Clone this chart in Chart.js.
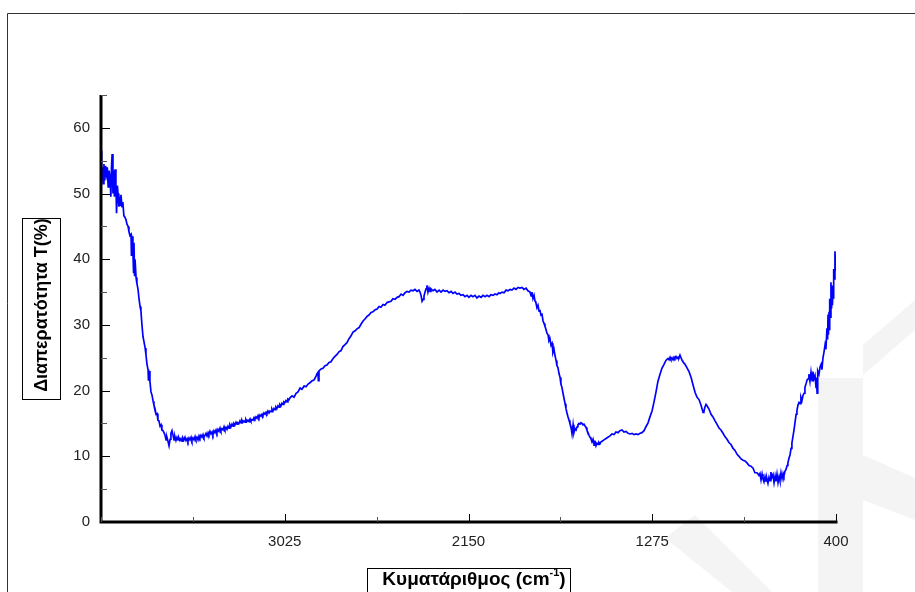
<!DOCTYPE html>
<html>
<head>
<meta charset="utf-8">
<script src="https://cdn.jsdelivr.net/npm/chart.js@4.4.1/dist/chart.umd.min.js"></script>
<style>
html,body{margin:0;padding:0;background:#fff;}
#wrap{position:relative;width:915px;height:592px;}
</style>
</head>
<body>
<div id="wrap"><canvas id="c" width="915" height="592"></canvas></div>
<script>
// ---- data ----
const wavenumbers = [
3900,3897,3893,3890,3886,3882,3878,3874,3870,3866,3862,3857,3853,3850,3847,3843,3840,3836,3833,3829,3826,3822,3819,3815,3812,3808,3805,3800,3796,3791,3786,3781,3776,3771,3767,3762,3757,3755,3752,3748,3745,3743,3740,3738,3733,3729,3724,3719,3714,3710,3705,3700,3695,3690,3686,3681,3676,3674,3671,3667,3662,3657,3652,3648,3643,3638,3633,3629,3624,3619,3614,3610,3605,3600,3595,3590,3586,3581,3576,3571,3567,3562,
3557,3552,3548,3543,3538,3533,3529,3524,3519,3514,3510,3505,3500,3495,3490,3486,3481,3476,3471,3467,3462,3457,3452,3448,3443,3438,3433,3429,3424,3419,3414,3410,3405,3400,3395,3390,3386,3381,3376,3371,3367,3362,3357,3352,3348,3343,3338,3333,3329,3324,3319,3314,3310,3305,3300,3295,3290,3286,3281,3276,3271,3267,3262,3257,3252,3248,3243,3238,3233,3229,3224,3219,3214,3210,3205,3200,3195,3190,3186,3181,3176,3171,3167,3162,3157,3152,3148,3143,3138,3133,3129,3124,3119,3114,3110,3105,3100,3095,3090,3086,3081,3076,3071,3067,3062,3057,3052,3048,3043,3038,3033,3029,3024,3019,3014,3010,3005,3000,
2990,2981,2971,2962,2952,2943,2933,2924,2914,2905,2895,2886,2876,2871,2867,2865,2862,2852,2843,2833,2824,2814,2805,2795,2786,2776,2767,2757,2748,2738,2729,2719,2710,2700,2690,2681,2671,2662,2652,2643,2633,2624,2614,2605,2595,2586,2576,2567,2557,2548,2538,2529,2519,2510,2500,2490,2481,2471,2462,2452,2443,2433,2424,2414,2405,2395,2386,2381,2376,2371,2366,2362,2357,2352,2348,2343,2338,2333,2329,
2319,2310,2300,2290,2281,2271,2262,2252,2243,2233,2224,2214,2205,2195,2186,2176,2167,2157,2148,2138,2129,2119,2110,2100,2090,2081,2071,2062,2052,2043,2033,2024,2014,2005,2000,1990,1981,1971,1962,1952,1943,1933,1924,1914,1905,1895,1886,1876,1867,
1857,1852,1848,1843,1838,1833,1829,1824,1819,1814,1810,1805,1800,1795,1790,1786,1781,1776,1771,1767,1762,1757,1752,1748,1743,1738,1733,1729,1724,1719,1714,1710,1705,1700,1695,1690,1686,1681,1676,1671,1667,1662,1657,1652,1648,1643,1638,1633,1629,1624,1619,1614,1610,1605,1600,1595,1590,1586,1581,1576,1571,1567,1562,1557,1552,1548,1543,1538,1533,1529,1524,1519,1514,1505,1495,1486,1476,1467,1457,1448,1438,1429,1419,1410,1400,1390,1381,1371,1362,1352,1343,1333,1324,1314,1305,1295,1286,1276,1267,1257,1248,1238,1229,1219,1210,1200,1195,1190,1186,1181,1176,1171,1167,1162,1157,1152,1148,1143,1138,1133,1129,1119,1110,1100,1090,1081,1071,1062,1052,1043,1033,1029,1024,1019,1014,1005,995,986,976,967,957,948,938,929,919,910,900,890,881,871,862,852,843,833,824,814,805,795,786,776,767,762,757,752,748,743,738,733,729,724,719,714,710,705,700,695,690,686,681,676,671,667,662,657,652,648,643,638,633,629,624,619,614,610,605,600,595,590,586,581,576,571,567,562,557,552,548,543,538,533,529,524,519,514,510,505,500,495,493,490,488,486,481,476,471,467,462,457,452,448,443,440,438,436,433,431,429,426,424,421,419,417,414,412,410,407,405,402,400
];
const transmittance = [
56.5,52,54,51.5,54.5,52,54.2,53,54,51,53.5,52.5,49.5,54,56,50,53.5,49.5,53.7,51.5,47,51.2,50,48,49.5,48.2,49.8,48,48.7,46.6,46.4,46,45.3,45,44.2,43.6,43.8,40.5,43.5,41,38,42.5,37.4,40,37.2,36.3,35.5,34,32.8,32.2,30,28.2,27.4,26.5,25.5,24,23.2,21.5,23,21.4,19.8,19.3,18.4,17.8,17.3,16.4,16.5,15.5,15.4,14.6,14.8,14,13.9,13.6,13.2,12.5,12.9,12.3,11.6,12.6,13.5,13.9,
13.2,12.5,13.0,12.4,12.9,12.5,12.8,12.4,12.7,12.3,12.8,12.5,12.9,12.4,12.7,12.3,12.8,12.5,12.9,12.4,12.8,12.5,13.0,12.6,12.9,12.5,13.1,12.8,13.2,12.9,13.3,12.9,13.2,13.5,13.1,13.6,13.3,13.8,13.4,13.7,13.3,13.9,13.6,14.0,13.6,14.1,13.8,14.3,13.9,14.2,14.0,14.5,14.1,14.4,14.1,14.6,14.3,14.8,14.5,14.9,14.6,15.0,14.8,15.2,14.9,15.1,15.0,15.4,15.1,15.5,15.2,15.4,15.2,15.6,15.3,15.5,15.3,15.7,15.4,15.6,15.5,15.9,15.7,16.0,15.8,16.2,15.9,16.3,16.1,16.4,16.2,16.6,16.4,16.7,16.5,16.9,16.6,16.9,16.8,17.2,16.9,17.3,17.1,17.5,17.3,17.7,17.5,17.9,17.7,18.1,17.9,18.3,18.2,18.5,18.3,18.7,18.6,18.9,
19.2,19.0,19.6,19.8,20.4,20.2,20.7,20.6,21.0,21.2,21.5,21.6,22.2,22.6,22.9,21.5,23.0,23.3,23.4,23.8,23.9,24.3,24.4,24.9,25.2,25.5,25.9,26.1,26.7,27.0,27.3,27.9,28.3,28.9,29.1,29.4,29.6,30.1,30.6,30.9,31.3,31.5,31.9,32.0,32.3,32.4,32.8,32.7,33.1,33.0,33.4,33.5,33.6,34.0,33.9,34.2,34.3,34.7,34.5,34.9,35.1,35.0,35.3,35.2,35.4,35.1,35.3,35.0,34.5,33.6,33.9,34.4,35.0,35.5,36.0,35.0,35.6,35.1,35.5,
35.2,35.4,35.0,35.3,35.0,35.3,35.1,35.2,34.9,35.1,34.8,35.0,34.7,34.8,34.5,34.6,34.3,34.5,34.2,34.5,34.3,34.5,34.1,34.4,34.2,34.5,34.3,34.5,34.3,34.6,34.5,34.7,34.6,34.9,34.8,35.0,34.9,35.3,35.2,35.4,35.3,35.6,35.4,35.7,35.6,35.7,35.4,35.6,35.2,
35.0,34.4,35.0,34.0,34.5,33.6,33.4,32.6,33.0,32.1,32.3,31.5,31.6,30.6,30.2,29.8,29.3,28.7,28.5,27.6,27.9,26.9,27.2,25.8,26.3,25.3,24.6,23.8,23.5,22.6,22.0,21.0,20.5,19.6,18.8,18.0,17.3,16.6,16.0,15.5,15.0,14.5,13.4,14.8,13.6,14.2,14.0,14.5,14.8,15.0,14.9,15.1,15.0,14.8,14.9,14.6,14.4,14.0,13.6,13.2,12.9,12.7,12.2,12.6,11.7,12.4,11.6,12.0,11.8,12.1,11.9,12.2,12.3,12.5,12.7,12.9,13.1,13.4,13.3,13.7,13.6,13.9,14.0,13.7,13.8,13.5,13.4,13.5,13.3,13.4,13.3,13.5,13.6,13.9,14.5,15.1,16.0,16.9,18.2,19.8,21.4,22.5,23.4,24.0,24.6,24.9,24.7,25.1,24.8,25.0,24.7,25.1,24.9,25.2,24.9,25.1,25.0,25.4,25.0,24.6,24.4,24.0,23.5,22.9,22.0,20.9,19.7,19.0,18.6,17.8,16.7,16.8,17.5,17.9,17.7,17.2,16.4,16.0,15.4,14.9,14.3,14.0,13.5,13.0,12.6,12.1,11.8,11.2,10.9,10.3,10.0,9.6,9.4,9.3,9.0,8.6,8.5,8.2,7.5,7.5,7.1,7.4,6.4,7.3,6.6,6.1,6.9,6.2,6.6,5.9,6.8,6.3,7.6,6.8,7.2,6.0,7.0,6.2,7.3,6.0,6.9,6.3,7.5,6.6,7.4,7.0,7.7,8.0,8.6,9.0,9.7,10.2,11.2,12.0,13.0,14.0,15.2,16.4,17.0,17.8,18.2,18.0,19.0,18.5,19.3,19.6,20.5,21.0,21.6,21.8,22.5,21.4,22.8,21.5,22.9,21.8,22.3,20.5,22.0,19.6,22.8,23.0,22.5,23.6,24.0,23.2,25.0,25.9,27.0,26.3,29.5,27.8,31.6,28.5,32.0,29.2,34.0,31.2,36.5,32.5,36.0,33.0,35.5,34.0,38.5,37.0,41.2,39.0,38.2
];
const xTickValues = [400, 1275, 2150, 3025];
const xMinorTickValues = [837.5, 1712.5, 2587.5, 3462.5, 3900];
const yTickValues = [0, 10, 20, 30, 40, 50, 60];
const yMinorTickValues = [5, 15, 25, 35, 45, 55, 65];
const xAxisTitle = "Κυματάριθμος (cm";
const xAxisTitleSup = "-1";
const yAxisTitle = "Διαπερατότητα T(%)";

const points = wavenumbers.map((w, i) => ({ x: w, y: transmittance[i] }));
const FONT = '"Liberation Sans", Arial, sans-serif';

const decor = {
  id: 'decor',
  beforeDraw(chart) {
    const ctx = chart.ctx;
    ctx.save();
    ctx.fillStyle = '#fff';
    ctx.fillRect(0, 0, chart.width, chart.height);
    // faint watermark shapes
    ctx.fillStyle = '#f4f4f4';
    ctx.beginPath();
    ctx.moveTo(665, 538); ctx.lineTo(695, 515); ctx.lineTo(772, 592); ctx.lineTo(732, 592); ctx.closePath(); ctx.fill();
    ctx.fillRect(818, 378, 45, 214);
    ctx.beginPath();
    ctx.moveTo(863, 455); ctx.lineTo(915, 478); ctx.lineTo(915, 520); ctx.lineTo(863, 500); ctx.closePath(); ctx.fill();
    ctx.beginPath();
    ctx.moveTo(863, 345); ctx.lineTo(915, 300); ctx.lineTo(915, 330); ctx.lineTo(863, 375); ctx.closePath(); ctx.fill();
    ctx.restore();
  },
  afterDraw(chart) {
    const ctx = chart.ctx;
    const xs = chart.scales.x, ys = chart.scales.y;
    const a = chart.chartArea;
    ctx.save();
    // outer frame
    ctx.strokeStyle = '#333';
    ctx.lineWidth = 1;
    ctx.beginPath();
    ctx.moveTo(7.5, 600); ctx.lineTo(7.5, 13.5); ctx.lineTo(920, 13.5);
    ctx.stroke();
    // axes
    ctx.strokeStyle = '#000';
    ctx.lineWidth = 3;
    ctx.beginPath();
    ctx.moveTo(a.left, ys.getPixelForValue(65));
    ctx.lineTo(a.left, a.bottom);
    ctx.lineTo(xs.getPixelForValue(400) + 1.5, a.bottom);
    ctx.stroke();
    // inside ticks
    ctx.lineWidth = 1;
    ctx.strokeStyle = '#000';
    yTickValues.forEach(v => {
      const y = Math.round(ys.getPixelForValue(v)) + 0.5;
      ctx.beginPath(); ctx.moveTo(a.left, y); ctx.lineTo(a.left + 9, y); ctx.stroke();
    });
    ctx.strokeStyle = '#555';
    yMinorTickValues.forEach(v => {
      const y = Math.round(ys.getPixelForValue(v)) + 0.5;
      ctx.beginPath(); ctx.moveTo(a.left, y); ctx.lineTo(a.left + 6, y); ctx.stroke();
    });
    ctx.strokeStyle = '#000';
    xTickValues.forEach(v => {
      const x = Math.round(xs.getPixelForValue(v)) + 0.5;
      ctx.beginPath(); ctx.moveTo(x, a.bottom); ctx.lineTo(x, a.bottom - 8); ctx.stroke();
    });
    ctx.strokeStyle = '#555';
    xMinorTickValues.forEach(v => {
      const x = Math.round(xs.getPixelForValue(v)) + 0.5;
      ctx.beginPath(); ctx.moveTo(x, a.bottom); ctx.lineTo(x, a.bottom - 5); ctx.stroke();
    });
    // y axis title box
    ctx.strokeStyle = '#000';
    ctx.lineWidth = 1;
    ctx.strokeRect(22.5, 218.5, 38, 181);
    ctx.save();
    ctx.translate(42, 305);
    ctx.rotate(-Math.PI / 2);
    ctx.fillStyle = '#000';
    ctx.font = 'bold 18px ' + FONT;
    ctx.textAlign = 'center';
    ctx.textBaseline = 'middle';
    ctx.fillText(yAxisTitle, 0, 0);
    ctx.restore();
    // x axis title box
    ctx.strokeRect(367.5, 568.5, 203, 40);
    ctx.fillStyle = '#000';
    ctx.font = 'bold 19px ' + FONT;
    ctx.textBaseline = 'alphabetic';
    ctx.textAlign = 'left';
    const mainW = ctx.measureText(xAxisTitle).width;
    ctx.font = 'bold 11px ' + FONT;
    const supW = ctx.measureText(xAxisTitleSup).width;
    ctx.font = 'bold 19px ' + FONT;
    const closeW = ctx.measureText(")").width;
    let x0 = 474 - (mainW + supW + closeW) / 2;
    ctx.fillText(xAxisTitle, x0, 585);
    ctx.font = 'bold 11px ' + FONT;
    ctx.fillText(xAxisTitleSup, x0 + mainW, 576);
    ctx.font = 'bold 19px ' + FONT;
    ctx.fillText(")", x0 + mainW + supW, 585);
    ctx.restore();
  }
};

new Chart(document.getElementById('c'), {
  type: 'line',
  data: {
    datasets: [{
      data: points,
      borderColor: '#0000ff',
      borderWidth: 1.7,
      pointRadius: 0,
      tension: 0,
      fill: false
    }]
  },
  options: {
    responsive: false,
    animation: false,
    layout: { padding: { top: 95, right: 79, left: 0, bottom: 0 } },
    plugins: { legend: { display: false }, tooltip: { enabled: false } },
    scales: {
      x: {
        type: 'linear',
        reverse: true,
        min: 400,
        max: 3900,
        afterFit(s) { s.height = 70; },
        afterBuildTicks(s) { s.ticks = xTickValues.map(v => ({ value: v })); },
        grid: { display: false, drawTicks: false },
        border: { display: false },
        ticks: {
          padding: 11,
          color: '#222',
          font: { family: FONT, size: 15 },
          maxRotation: 0,
          autoSkip: false,
          callback: v => String(v)
        }
      },
      y: {
        min: 0,
        max: 65,
        afterFit(s) { s.width = 101; },
        afterBuildTicks(s) { s.ticks = yTickValues.map(v => ({ value: v })); },
        grid: { display: false, drawTicks: false },
        border: { display: false },
        ticks: {
          padding: 11,
          color: '#222',
          font: { family: FONT, size: 15 },
          callback: v => String(v)
        }
      }
    }
  },
  plugins: [decor]
});
</script>
</body>
</html>
